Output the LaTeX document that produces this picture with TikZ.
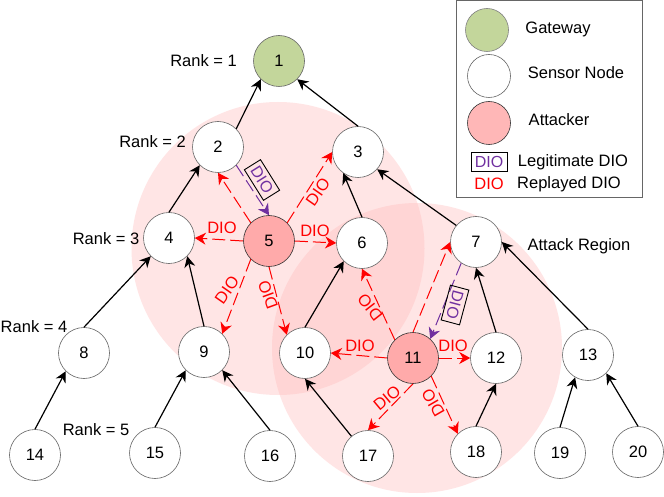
\documentclass[tikz,border=0pt]{standalone}
\usepackage{fontspec}
\setmainfont{Liberation Sans}
\usetikzlibrary{arrows.meta}
\definecolor{gw}{RGB}{195,214,155}
\definecolor{atk}{RGB}{255,170,170}
\definecolor{dred}{RGB}{255,0,0}
\definecolor{dpur}{RGB}{112,48,160}
\definecolor{regionc}{RGB}{255,190,190}
\tikzset{
  sensor/.style={circle,draw=black!60,line width=.6pt,fill=white,minimum size=51pt,inner sep=0pt,font=\fontsize{16.5}{16.5}\selectfont},
  attacker/.style={sensor,fill=atk,draw=black!80},
  gateway/.style={sensor,fill=gw,draw=black!60},
  link/.style={-{Stealth[length=11pt,width=11pt]},line width=1.2pt,black},
  replay/.style={-{Stealth[length=11pt,width=12pt]},line width=1pt,dred,dash pattern=on 13pt off 5pt},
  legit/.style={-{Stealth[length=11pt,width=12pt]},line width=1pt,dpur,dash pattern=on 13pt off 5pt},
  dio/.style={text=dred,font=\fontsize{16.5}{16.5}\selectfont,inner sep=0pt},
  diobox/.style={text=dpur,draw=black,line width=.9pt,font=\fontsize{16}{16}\selectfont,inner sep=1pt,minimum width=36pt,minimum height=19pt},
  lab/.style={font=\fontsize{16.5}{16.5}\selectfont,inner sep=0pt,text=black},
  region/.style={fill=regionc,fill opacity=.4,draw=none}
}
\begin{document}
\begin{tikzpicture}[x=1pt,y=-1pt]
\useasboundingbox (0,0) rectangle (664,497);
\fill[white] (0,0) rectangle (664,497);
% regions
\fill[region] (278,248.5) circle (146.5);
\fill[region] (417,348) circle (145);
% nodes
\node[gateway] (n1) at (279,61) {1};
\node[sensor] (n2) at (218,147) {2};
\node[sensor] (n3) at (358,152) {3};
\node[sensor] (n4) at (169,238) {4};
\node[attacker] (n5) at (269,241) {5};
\node[sensor] (n6) at (362,243) {6};
\node[sensor] (n7) at (476,242) {7};
\node[sensor] (n8) at (84,353) {8};
\node[sensor] (n9) at (204,352) {9};
\node[sensor] (n10) at (305,353) {10};
\node[attacker] (n11) at (413,358) {11};
\node[sensor] (n12) at (496,358) {12};
\node[sensor] (n13) at (588,355) {13};
\node[sensor] (n14) at (35,455) {14};
\node[sensor] (n15) at (155,453) {15};
\node[sensor] (n16) at (270,456) {16};
\node[sensor] (n17) at (368,456) {17};
\node[sensor] (n18) at (476,452) {18};
\node[sensor] (n19) at (560,453) {19};
\node[sensor] (n20) at (638,452) {20};
% tree links
\draw[link] (n2.45) -- (n1.225);
\draw[link] (n3.90) -- (n1.-45);
\draw[link] (n4.90) -- (n2.225);
\draw[link] (n6.90) -- (n3.235);
\draw[link] (n7.140) -- (n3.-42);
\draw[link] (n8.90) -- (n4.225);
\draw[link] (n9.90) -- (n4.-45);
\draw[link] (n10.90) -- (n6.225);
\draw[link] (n12.90) -- (n7.270);
\draw[link] (n13.90) -- (n7.0);
\draw[link] (n14.90) -- (n8.225);
\draw[link] (n15.90) -- (n9.225);
\draw[link] (n16.90) -- (n9.-45);
\draw[link] (n17.130) -- (n10.270);
\draw[link] (n18.90) -- (n12.270);
\draw[link] (n19.90) -- (n13.240);
\draw[link] (n20.90) -- (n13.-45);
% replayed
\draw[replay] (n5.135) -- (n2.270);
\draw[replay] (n5.45) -- (n3.180);
\draw[replay] (n5.180) -- (n4.0);
\draw[replay] (n5.0) -- (n6.180);
\draw[replay] (n5.225) -- (n9.45);
\draw[replay] (n5.270) -- (n10.135);
\draw[replay] (n11.135) -- (n6.270);
\draw[replay] (n11.90) -- (n7.180);
\draw[replay] (n11.180) -- (n10.0);
\draw[replay] (n11.0) -- (n12.180);
\draw[replay] (n11.270) -- (n17.90);
\draw[replay] (n11.-45) -- (n18.135);
% legitimate
\draw[legit] (n2.-45) -- (n5.90);
\draw[legit] (n7.235) -- (n11.48);
% DIO labels
\node[dio] (d1) at (222,228) {DIO};
\node[dio] (d2) at (315,231) {DIO};
\node[dio,rotate=55] (d3) at (318,192) {DIO};
\node[dio,rotate=55] (d4) at (227,290) {DIO};
\node[dio,rotate=110] (d5) at (268,295) {DIO};
\node[dio,rotate=128] (d6) at (370,307) {DIO};
\node[dio] (d7) at (360,346) {DIO};
\node[dio] (d8) at (453,346) {DIO};
\node[dio,rotate=40] (d9) at (387,398) {DIO};
\node[dio,rotate=120] (d10) at (433,403) {DIO};
\node[diobox,rotate=-58] (d11) at (262,180) {DIO};
\node[diobox,rotate=-105] (d12) at (455,305) {DIO};
% rank labels
\node[lab] (r1) at (203.5,61) {Rank = 1};
\node[lab] (r2) at (152.5,142) {Rank = 2};
\node[lab] (r3) at (106,239) {Rank = 3};
\node[lab] (r4) at (34,327) {Rank = 4};
\node[lab] (r5) at (96,430) {Rank = 5};
\node[lab] (ar) at (579,246) {Attack Region};
% legend
\node[draw=black!60,line width=.8pt,minimum width=186pt,minimum height=197pt,inner sep=0pt] (lg) at (549,98.5) {};
\node[gateway,minimum size=43pt,draw=black!50] (l1) at (487,30) {};
\node[sensor,minimum size=43pt] (l2) at (489,76) {};
\node[attacker,minimum size=43pt,fill=atk!85!white] (l3) at (489,123) {};
\node[lab] (t1) at (558,29) {Gateway};
\node[lab] (t2) at (576,73) {Sensor Node};
\node[lab] (t3) at (559,120) {Attacker};
\node[diobox] (t4) at (489,161.5) {DIO};
\node[lab] (t5) at (573,162) {Legitimate DIO};
\node[dio] (t6) at (489,184) {DIO};
\node[lab] (t7) at (569,184) {Replayed DIO};
\end{tikzpicture}
\end{document}
